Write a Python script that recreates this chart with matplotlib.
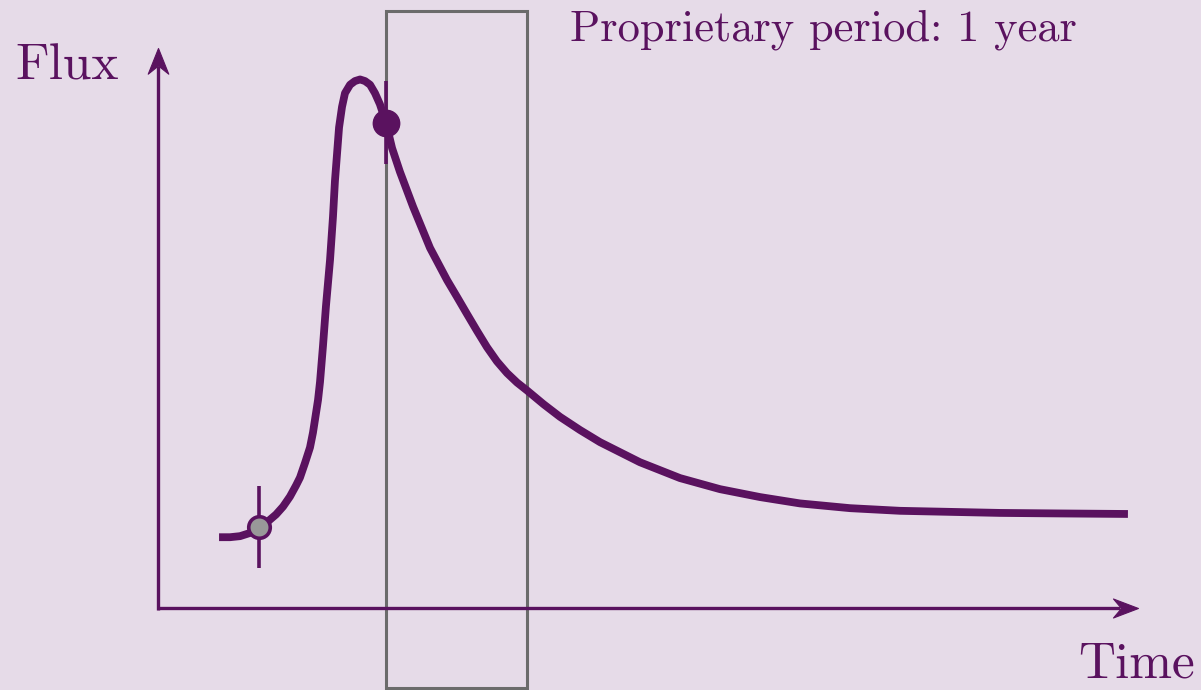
import matplotlib
matplotlib.use("Agg")
import matplotlib.pyplot as plt
from matplotlib.patches import Rectangle
from matplotlib.path import Path

# Light curve of a transient: time in years, flux normalised to the peak
time_yr = [0.433, 0.511, 0.582, 0.652, 0.716, 0.780, 0.837, 0.887, 0.936, 0.979,
           1.007, 1.043, 1.078, 1.099, 1.113, 1.135, 1.149, 1.170, 1.191, 1.220,
           1.241, 1.255, 1.270, 1.284, 1.305, 1.326, 1.362, 1.397, 1.433, 1.468,
           1.504, 1.539, 1.574, 1.617, 1.660, 1.716, 1.809, 1.929, 2.050, 2.121,
           2.191, 2.262, 2.333, 2.404, 2.475, 2.546, 2.617, 2.734, 2.851, 2.993,
           3.135, 3.418, 3.702, 3.986, 4.270, 4.553, 4.908, 5.262, 5.617, 5.972,
           6.397, 6.879]
flux = [0.135, 0.135, 0.137, 0.143, 0.154, 0.165, 0.178, 0.193, 0.212, 0.233,
        0.248, 0.276, 0.305, 0.333, 0.357, 0.395, 0.429, 0.497, 0.572, 0.660,
        0.742, 0.810, 0.862, 0.911, 0.950, 0.976, 0.992, 0.999, 1.002, 0.999,
        0.992, 0.976, 0.955, 0.920, 0.872, 0.827, 0.761, 0.683, 0.622, 0.590,
        0.558, 0.526, 0.495, 0.468, 0.446, 0.428, 0.413, 0.387, 0.363, 0.338,
        0.315, 0.277, 0.247, 0.226, 0.211, 0.199, 0.190, 0.185, 0.183, 0.181,
        0.180, 0.179]

# Two observations: pre-outburst (grey) and at detection (filled)
obs_time = [0.716, 1.617]
obs_flux = [0.154, 0.920]
obs_err = [0.078, 0.079]

proprietary_start = 1.617
proprietary_years = 1.0

BG = "#e6dbe8"
PURPLE = "#5a125f"
GREY = "#6b6b6b"

plt.rcParams["font.family"] = "cmr10"
plt.rcParams["mathtext.fontset"] = "cm"
plt.rcParams["axes.unicode_minus"] = False

W, H = 12.01, 6.90
fig = plt.figure(figsize=(W, H), dpi=100, facecolor=BG)
ax = fig.add_axes([0, 0, 1, 1])
ax.set_facecolor(BG)
XLIM = (-1.1206, 7.3972)
YLIM = (-0.1544, 1.1525)
ax.set_xlim(*XLIM)
ax.set_ylim(*YLIM)
ax.axis("off")

# pixels per data unit, used to stop the axis lines inside the arrow heads
px_x = W * 100 / (XLIM[1] - XLIM[0])
px_y = H * 100 / (YLIM[1] - YLIM[0])

# proprietary window
ax.add_patch(Rectangle((proprietary_start, -0.151), proprietary_years, 1.282,
                       fill=False, edgecolor=GREY, linewidth=2.2, zorder=1))

# stealth-style arrow heads as custom markers (tip at the marker origin)
head_x = Path([(0, 0), (-1, 0.38), (-0.68, 0), (-1, -0.38), (0, 0)],
              [Path.MOVETO, Path.LINETO, Path.LINETO, Path.LINETO, Path.CLOSEPOLY])
head_y = Path([(0, 0), (0.40, -1), (0, -0.68), (-0.40, -1), (0, 0)],
              [Path.MOVETO, Path.LINETO, Path.LINETO, Path.LINETO, Path.CLOSEPOLY])

x_tip, y_tip = 6.95, 1.0616
ax.plot([-0.008, x_tip - 18 / px_x], [0, 0], color=PURPLE, lw=2.4,
        solid_capstyle="butt", zorder=2)
ax.plot([0, 0], [-0.003, y_tip - 18 / px_y], color=PURPLE, lw=2.4,
        solid_capstyle="butt", zorder=2)
ax.plot(x_tip, 0, marker=head_x, ms=36, color=PURPLE, mec=PURPLE, mew=0.8,
        zorder=2)
ax.plot(0, y_tip, marker=head_y, ms=37, color=PURPLE, mec=PURPLE, mew=0.8,
        zorder=2)

# light curve
ax.plot(time_yr, flux, color=PURPLE, lw=5.6, solid_capstyle="butt",
        solid_joinstyle="round", zorder=3)

# error bars and observation markers
for t, f, e in zip(obs_time, obs_flux, obs_err):
    ax.plot([t, t], [f - e, f + e], color=PURPLE, lw=2.6,
            solid_capstyle="butt", zorder=2.5)
ax.plot(obs_time[0], obs_flux[0], "o", ms=15.5, mfc="#999999", mec=PURPLE,
        mew=2.6, zorder=4)
ax.plot(obs_time[1], obs_flux[1], "o", ms=19, mfc=PURPLE, mec=PURPLE,
        mew=1, zorder=4)

fig.text(15 / 1201, 1 - 80 / 690, "Flux", color=PURPLE, fontsize=37,
         ha="left", va="baseline")
fig.text(1195 / 1201, 1 - 678 / 690, "Time", color=PURPLE, fontsize=37,
         ha="right", va="baseline")
fig.text(570 / 1201, 1 - 40 / 690, "Proprietary period: 1 year", color=PURPLE,
         fontsize=32, ha="left", va="baseline")

fig.savefig("out.png", dpi=100, facecolor=BG)
